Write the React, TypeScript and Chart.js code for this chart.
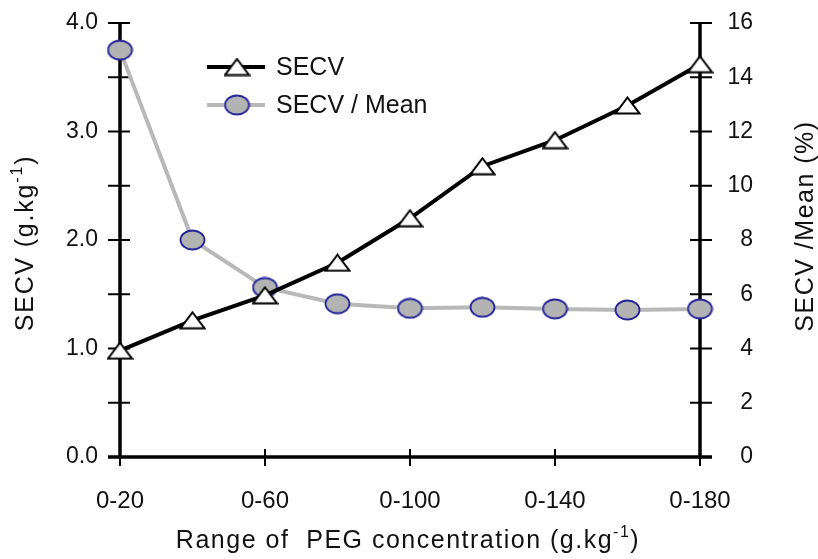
import React, { useEffect, useRef } from "react";
import { Chart, registerables } from "chart.js";

Chart.register(...registerables);

const categories = ["0-20", "0-40", "0-60", "0-80", "0-100", "0-120", "0-140", "0-160", "0-180"];
const secv = [0.98, 1.26, 1.49, 1.79, 2.2, 2.68, 2.92, 3.24, 3.62];
const secvMean = [15.0, 8.0, 6.25, 5.65, 5.48, 5.52, 5.46, 5.42, 5.46];
const leftTicks = [0, 1, 2, 3, 4];
const rightTicks = [0, 2, 4, 6, 8, 10, 12, 14, 16];

const FONT = "'Liberation Sans', Arial, Helvetica, sans-serif";

function makeTriangle(): HTMLCanvasElement {
  const c = document.createElement("canvas");
  c.width = 27;
  c.height = 19;
  const g = c.getContext("2d")!;
  g.beginPath();
  g.moveTo(13.5, 1.5);
  g.lineTo(25.5, 17.5);
  g.lineTo(1.5, 17.5);
  g.closePath();
  g.fillStyle = "#ffffff";
  g.fill();
  g.lineWidth = 2;
  g.strokeStyle = "#000000";
  g.lineJoin = "miter";
  g.stroke();
  return c;
}

function makeEllipse(): HTMLCanvasElement {
  const c = document.createElement("canvas");
  c.width = 27;
  c.height = 22;
  const g = c.getContext("2d")!;
  g.beginPath();
  g.ellipse(13.5, 11, 12, 9.5, 0, 0, Math.PI * 2);
  g.fillStyle = "#b3b3b3";
  g.fill();
  g.lineWidth = 1.8;
  g.strokeStyle = "#24249a";
  g.stroke();
  return c;
}

function drawSupText(
  ctx: CanvasRenderingContext2D,
  parts: { t: string; sup?: boolean }[],
  size: number,
  cx: number,
  cy: number,
  rotate: number,
  spacing: number
) {
  ctx.save();
  ctx.translate(cx, cy);
  ctx.rotate(rotate);
  ctx.fillStyle = "#111";
  ctx.textBaseline = "middle";
  ctx.textAlign = "left";
  (ctx as any).letterSpacing = `${spacing}px`;
  const supSize = Math.round(size * 0.62);
  let total = 0;
  for (const p of parts) {
    ctx.font = `${p.sup ? supSize : size}px ${FONT}`;
    total += ctx.measureText(p.t).width;
  }
  let x = -total / 2;
  for (const p of parts) {
    ctx.font = `${p.sup ? supSize : size}px ${FONT}`;
    ctx.fillText(p.t, x, p.sup ? -size * 0.35 : 0);
    x += ctx.measureText(p.t).width;
  }
  ctx.restore();
}

export default function App() {
  const ref = useRef<HTMLCanvasElement>(null);

  useEffect(() => {
    const tri = makeTriangle();
    const ell = makeEllipse();

    const axesPlugin = {
      id: "customAxes",
      beforeDatasetsDraw(chart: any) {
        const ctx = chart.ctx as CanvasRenderingContext2D;
        const { left, right, top, bottom } = chart.chartArea;
        const y = chart.scales.y;
        const y1 = chart.scales.y1;
        const x = chart.scales.x;
        ctx.save();
        ctx.strokeStyle = "#000";
        ctx.lineCap = "butt";
        ctx.lineWidth = 2;
        for (let v = 0; v <= 4.0001; v += 0.5) {
          const py = y.getPixelForValue(v);
          ctx.beginPath();
          ctx.moveTo(left - 12, py);
          ctx.lineTo(left + 10, py);
          ctx.stroke();
        }
        for (const v of rightTicks) {
          const py = y1.getPixelForValue(v);
          ctx.beginPath();
          ctx.moveTo(right - 10, py);
          ctx.lineTo(right + 12, py);
          ctx.stroke();
        }
        categories.forEach((_c, i) => {
          if (i % 2 !== 0) return;
          const px = x.getPixelForValue(i);
          ctx.beginPath();
          ctx.moveTo(px, bottom - 8);
          ctx.lineTo(px, bottom + 9);
          ctx.stroke();
        });
        ctx.lineWidth = 3.5;
        ctx.beginPath();
        ctx.moveTo(left, top - 1);
        ctx.lineTo(left, bottom + 2);
        ctx.stroke();
        ctx.beginPath();
        ctx.moveTo(right, top - 1);
        ctx.lineTo(right, bottom + 2);
        ctx.stroke();
        ctx.beginPath();
        ctx.moveTo(left - 12, bottom);
        ctx.lineTo(right + 12, bottom);
        ctx.stroke();
        ctx.restore();
      },
      afterDraw(chart: any) {
        const ctx = chart.ctx as CanvasRenderingContext2D;
        drawSupText(ctx, [{ t: "SECV (g.kg" }, { t: "-1", sup: true }, { t: ")" }], 25, 26, 243, -Math.PI / 2, 1.8);
        drawSupText(ctx, [{ t: "SECV /Mean (%)" }], 25, 806, 226, -Math.PI / 2, 1.5);
        drawSupText(
          ctx,
          [{ t: "Range of  PEG concentration (g.kg" }, { t: "-1", sup: true }, { t: ")" }],
          25,
          408,
          541,
          0,
          1.5
        );
        ctx.save();
        const items = [
          { label: "SECV", color: "#000", img: tri, y: 67 },
          { label: "SECV / Mean", color: "#b8b8b8", img: ell, y: 105 },
        ];
        for (const it of items) {
          ctx.strokeStyle = it.color;
          ctx.lineWidth = 4;
          ctx.beginPath();
          ctx.moveTo(207, it.y);
          ctx.lineTo(265, it.y);
          ctx.stroke();
          ctx.drawImage(it.img, 237 - it.img.width / 2, it.y - it.img.height / 2);
          ctx.fillStyle = "#111";
          ctx.font = `25px ${FONT}`;
          ctx.textBaseline = "middle";
          ctx.textAlign = "left";
          ctx.fillText(it.label, 276, it.y + 1);
        }
        ctx.restore();
      },
    };

    const noPad = (w: number) => (s: any) => {
      s.width = w;
      s.paddingTop = 0;
      s.paddingBottom = 0;
    };

    const chart = new Chart(ref.current!, {
      type: "line",
      data: {
        labels: categories,
        datasets: [
          {
            label: "SECV",
            data: secv,
            yAxisID: "y",
            borderColor: "#000",
            borderWidth: 4,
            pointStyle: tri as any,
            pointRadius: 10,
            clip: false as any,
            tension: 0,
          },
          {
            label: "SECV / Mean",
            data: secvMean,
            yAxisID: "y1",
            borderColor: "#b8b8b8",
            borderWidth: 4,
            pointStyle: ell as any,
            pointRadius: 10,
            clip: false as any,
            tension: 0,
          },
        ],
      },
      options: {
        animation: false,
        responsive: true,
        maintainAspectRatio: false,
        layout: { padding: { top: 23, left: 0, right: 65, bottom: 0 } },
        plugins: { legend: { display: false }, tooltip: { enabled: false } },
        scales: {
          x: {
            type: "category",
            offset: false,
            grid: { display: false, drawTicks: false },
            border: { display: false },
            ticks: {
              autoSkip: false,
              maxRotation: 0,
              padding: 30,
              color: "#111",
              font: { family: FONT, size: 24 },
              callback: (_v: any, i: number) => (i % 2 === 0 ? categories[i] : ""),
            },
            afterFit: (s: any) => {
              s.height = 102;
              s.paddingLeft = 0;
              s.paddingRight = 0;
            },
          },
          y: {
            position: "left",
            min: 0,
            max: 4,
            grid: { display: false, drawTicks: false },
            border: { display: false },
            afterBuildTicks: (s: any) => {
              s.ticks = leftTicks.map((v) => ({ value: v }));
            },
            ticks: {
              padding: 22,
              color: "#111",
              font: { family: FONT, size: 23 },
              callback: (v: any) => Number(v).toFixed(1),
            },
            afterFit: noPad(120),
          },
          y1: {
            position: "right",
            min: 0,
            max: 16,
            grid: { display: false, drawTicks: false },
            border: { display: false },
            afterBuildTicks: (s: any) => {
              s.ticks = rightTicks.map((v) => ({ value: v }));
            },
            ticks: {
              padding: 20,
              crossAlign: "far",
              color: "#111",
              font: { family: FONT, size: 23 },
            },
            afterFit: noPad(53),
          },
        },
      },
      plugins: [axesPlugin],
    });
    return () => chart.destroy();
  }, []);

  return (
    <div style={{ position: "absolute", left: 0, top: 0, width: 818, height: 559, background: "#fff" }}>
      <canvas ref={ref} />
    </div>
  );
}
